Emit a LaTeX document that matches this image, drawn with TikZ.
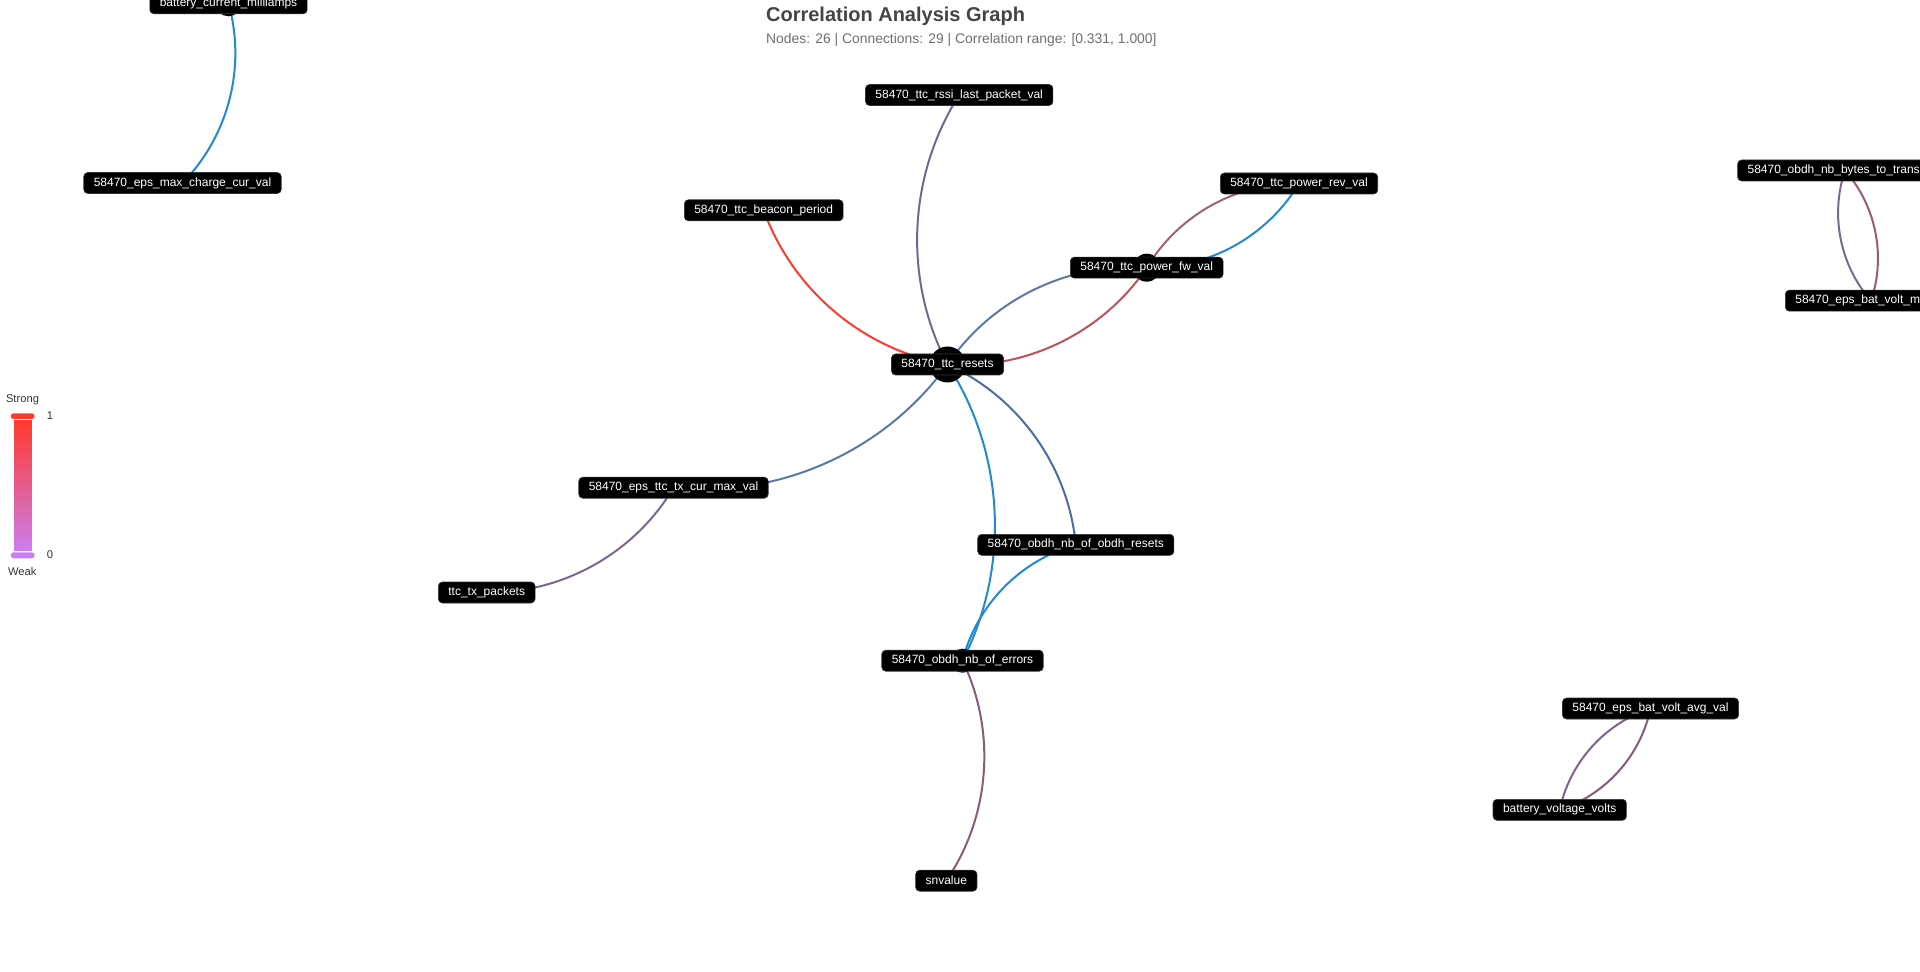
\documentclass[tikz,border=0pt]{standalone}
\usepackage{fontspec}
\setmainfont{Liberation Sans}
\definecolor{eblue}{HTML}{2189D3}
\definecolor{ered}{HTML}{FF3B2F}
\definecolor{eredm}{HTML}{C0505C}
\definecolor{emauve}{HTML}{A0607A}
\definecolor{eslate}{HTML}{5A78A8}
\definecolor{eslatetwo}{HTML}{4C6CA4}
\definecolor{epurple}{HTML}{6E6A90}
\definecolor{epurpletwo}{HTML}{7A6890}
\definecolor{emauvetwo}{HTML}{8C5A78}
\definecolor{bytesl}{HTML}{7A6896}
\definecolor{bytesr}{HTML}{9A5A7A}
\definecolor{avgl}{HTML}{80628C}
\definecolor{avgr}{HTML}{8A5A7A}
\definecolor{titlegray}{HTML}{444444}
\definecolor{subgray}{HTML}{6F6F6F}
\definecolor{legtext}{HTML}{333333}
\definecolor{legtop}{HTML}{FF3A2A}
\definecolor{legbot}{HTML}{CC7EF0}
\begin{document}
\begin{tikzpicture}[x=0.5pt,y=-0.5pt,
  lbl/.style={fill=black, draw=black!80, line width=0.3pt, rounded corners=2pt,
    text=white, font=\fontsize{6}{7}\selectfont, inner xsep=5pt, inner ysep=0pt,
    minimum height=10.5pt},
  dot/.style={circle, fill=black, inner sep=0pt, minimum size=#1},
  link/.style={line width=1pt, looseness=0.91},
  legtxt/.style={text=legtext, font=\fontsize{5.6}{6.5}\selectfont, inner sep=0pt}
]
\useasboundingbox (0,0) rectangle (1920,972);
\clip (0,0) rectangle (1920,972);

% node centres
\coordinate (bcm) at (228.5,3.3);
\coordinate (emc) at (182.5,183);
\coordinate (rssi) at (959.2,95);
\coordinate (beacon) at (763.7,210.3);
\coordinate (resets) at (947.5,364.5);
\coordinate (pfw) at (1146.7,267.7);
\coordinate (prev) at (1299,183.5);
\coordinate (etx) at (673.5,487.7);
\coordinate (ttx) at (486.7,592.5);
\coordinate (ores) at (1075.8,544.8);
\coordinate (oerr) at (962.5,660.7);
\coordinate (snv) at (946.3,880.7);
\coordinate (nbt) at (1845,170.5);
\coordinate (bvm) at (1871,300.7);
\coordinate (bva) at (1650.5,708.5);
\coordinate (bvv) at (1559.7,809.8);

% connectors
\draw[link, eblue] (bcm) to[bend left=30] (emc);
\draw[link, epurple] (rssi) to[bend right=30] (resets);
\draw[link, ered] (beacon) to[bend right=30] (resets);
\draw[link, eslate] (resets) to[bend left=30] (pfw);
\draw[link, eredm] (resets) to[bend right=30] (pfw);
\draw[link, emauve] (pfw) to[bend left=30] (prev);
\draw[link, eblue] (pfw) to[bend right=30] (prev);
\draw[link, eslate] (resets) to[bend left=30] (etx);
\draw[link, epurpletwo] (etx) to[bend left=30] (ttx);
\draw[link, eslatetwo] (resets) to[bend left=30] (ores);
\draw[link, eblue] (resets) to[bend left=30] (oerr);
\draw[link, eblue] (ores) to[bend right=30] (oerr);
\draw[link, emauvetwo] (oerr) to[bend left=30] (snv);
\draw[link, bytesl] (nbt) to[bend right=30] (bvm);
\draw[link, bytesr] (nbt) to[bend left=30] (bvm);
\draw[link, avgl] (bva) to[bend right=30] (bvv);
\draw[link, avgr] (bva) to[bend left=30] (bvv);

% node discs
\node[dot=18pt] (resets-d) at (resets) {};
\node[dot=14pt] (pfw-d) at (pfw) {};
\node[dot=12pt] (oerr-d) at (oerr) {};
\node[dot=13pt] (bcm-d) at (bcm) {};

% labels
\node[lbl] (bcm-l) at (bcm) {battery\_current\_milliamps};
\node[lbl] (emc-l) at (emc) {58470\_eps\_max\_charge\_cur\_val};
\node[lbl] (rssi-l) at (rssi) {58470\_ttc\_rssi\_last\_packet\_val};
\node[lbl] (beacon-l) at (beacon) {58470\_ttc\_beacon\_period};
\node[lbl] (resets-l) at (resets) {58470\_ttc\_resets};
\node[lbl] (pfw-l) at (pfw) {58470\_ttc\_power\_fw\_val};
\node[lbl] (prev-l) at (prev) {58470\_ttc\_power\_rev\_val};
\node[lbl] (etx-l) at (etx) {58470\_eps\_ttc\_tx\_cur\_max\_val};
\node[lbl] (ttx-l) at (ttx) {ttc\_tx\_packets};
\node[lbl] (ores-l) at (ores) {58470\_obdh\_nb\_of\_obdh\_resets};
\node[lbl] (oerr-l) at (oerr) {58470\_obdh\_nb\_of\_errors};
\node[lbl] (snv-l) at (snv) {snvalue};
\node[lbl, anchor=west, text width=95pt, align=left] (nbt-l) at (1737.3,170.5) {58470\_obdh\_nb\_bytes\_to\_trans};
\node[lbl, anchor=west, text width=76pt, align=left] (bvm-l) at (1785,300.7) {58470\_eps\_bat\_volt\_m};
\node[lbl] (bva-l) at (bva) {58470\_eps\_bat\_volt\_avg\_val};
\node[lbl] (bvv-l) at (bvv) {battery\_voltage\_volts};

% title
\node[anchor=base west, inner sep=0pt, text=titlegray, font=\fontsize{10}{12}\selectfont\bfseries] (title) at (765.7,21.5) {Correlation Analysis Graph};
\node[anchor=base west, inner sep=0pt, text=subgray, font=\fontsize{6.95}{8.5}\selectfont] (subtitle) at (765.7,43.5) {Nodes: 26 | Connections: 29 | Correlation range: [0.331, 1.000]};

% legend
\shade[top color=legtop, bottom color=legbot, draw=white, line width=0.5pt] (13,419.3) rectangle (32,551.7);
\fill[legtop, rounded corners=1.5pt] (10.7,413.3) rectangle (34.7,419);
\fill[legbot, rounded corners=1.5pt] (10.7,552.3) rectangle (34.7,558.3);
\node[legtxt] (leg-strong) at (22.5,400) {Strong};
\node[legtxt] (leg-weak) at (22.3,571.5) {Weak};
\node[legtxt, anchor=west] (leg-one) at (46.5,415.5) {1};
\node[legtxt, anchor=west] (leg-zero) at (46.5,555) {0};
\end{tikzpicture}
\end{document}
